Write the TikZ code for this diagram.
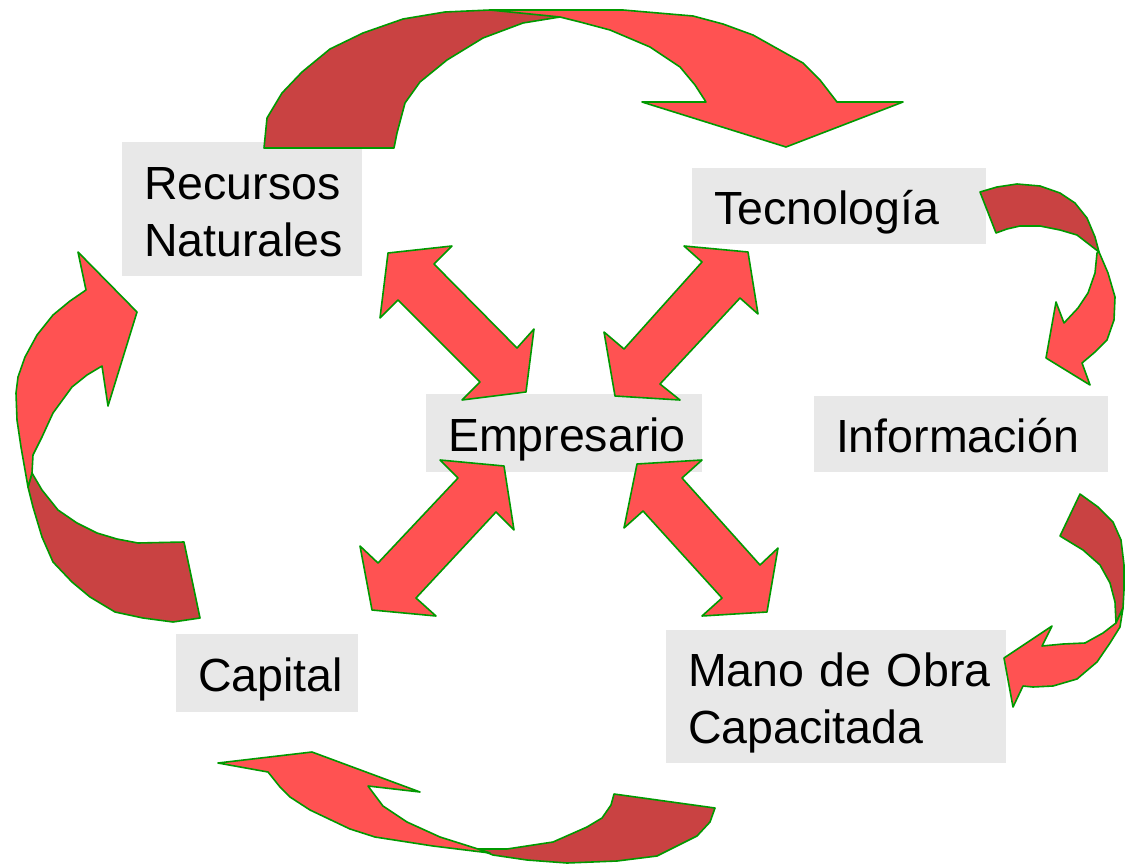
\documentclass[tikz,border=0pt]{standalone}
\usepackage{fontspec}
\setmainfont{Liberation Sans}
\usepackage{tikz}
\usetikzlibrary{positioning}

\definecolor{boxgray}{HTML}{E8E8E8}
\definecolor{ribbonred}{HTML}{FF5252}
\definecolor{ribbondark}{HTML}{C94242}
\definecolor{rimgreen}{HTML}{009900}

\begin{document}
\begin{tikzpicture}[
  x=1pt, y=-1pt,
  box/.style={fill=boxgray, inner xsep=22pt, inner ysep=0pt, align=left,
    text height=37pt, text depth=0pt, font=\fontsize{46.5}{57}\selectfont},
  ribbon/.style={fill=ribbonred, draw=rimgreen, line width=1.6pt, line join=round},
  ribbonback/.style={fill=ribbondark, draw=rimgreen, line width=1.6pt, line join=round}
]
  \useasboundingbox (0,0) rectangle (1126,864);

  % Nodes
  \node[box, minimum width=240, minimum height=134, text width=196, text depth=57pt] (recursos) at (242,209) {Recursos\\Naturales};
  \node[box, minimum width=294, minimum height=76, text width=250] (tecno) at (839,206) {Tecnología};
  \node[box, minimum width=276, minimum height=78, text width=232] (empresario) at (564,433) {Empresario};
  \node[box, minimum width=294, minimum height=76, text width=250] (info) at (961,434) {Información};
  \node[box, minimum width=182, minimum height=78, text width=138] (capital) at (267,673) {Capital};
  \node[box, minimum width=340, minimum height=133, text width=296, text depth=58pt] (mano) at (836,696.5) {\mbox{Mano de Obra}\\Capacitada};

  % Curved arrows round the cycle
  \draw[ribbonback] (264,148) -- (267,118) -- (282,93) -- (302,72) -- (330,49) -- (363,33) -- (403,19) -- (445,12) -- (490,10) -- (545,10) -- (560,17) -- (523,23) -- (483,38) -- (447,60) -- (420,82) -- (405,103) -- (397,133) -- (394,148) -- cycle;
  \draw[ribbon] (490,10) -- (623,10) -- (693,16) -- (723,24) -- (753,35) -- (803,63) -- (820,80) -- (837,102) -- (903,102) -- (786,147) -- (642,102) -- (706,102) -- (695,85) -- (680,67) -- (650,47) -- (610,30) -- (580,22) -- (560,17) -- cycle;

  \draw[ribbonback] (980,192) -- (997,187) -- (1017,184) -- (1040,186) -- (1060,193) -- (1075,203) -- (1087,218) -- (1095,237) -- (1099,252) -- (1077,235) -- (1060,230) -- (1040,226) -- (1020,226) -- (1007,229) -- (996,233) -- cycle;
  \draw[ribbon] (1099,252) -- (1108,273) -- (1115,297) -- (1114,320) -- (1107,340) -- (1095,352) -- (1082,363) -- (1090,385) -- (1046,358) -- (1056,302) -- (1064,323) -- (1078,308) -- (1088,293) -- (1095,273) -- (1097,253) -- cycle;

  \draw[ribbonback] (1080,494) -- (1098,507) -- (1113,522) -- (1121,540) -- (1124,565) -- (1124,590) -- (1123,608) -- (1116,623) -- (1115,602) -- (1110,583) -- (1100,565) -- (1083,550) -- (1060,536) -- cycle;
  \draw[ribbon] (1123,608) -- (1120,627) -- (1110,643) -- (1097,662) -- (1077,679) -- (1053,686) -- (1033,687) -- (1023,686) -- (1013,707) -- (1004,658) -- (1052,626) -- (1042,646) -- (1063,644) -- (1085,643) -- (1103,633) -- (1116,623) -- cycle;

  \draw[ribbonback] (614,794) -- (715,808) -- (710,822) -- (697,836) -- (657,856) -- (617,861) -- (567,863) -- (527,860) -- (493,855) -- (478,849) -- (507,849) -- (553,842) -- (587,827) -- (602,818) -- (611,805) -- cycle;
  \draw[ribbon] (490,853) -- (433,846) -- (375,837) -- (350,829) -- (310,810) -- (290,797) -- (280,787) -- (268,772) -- (218,763) -- (312,752) -- (420,792) -- (368,786) -- (383,806) -- (407,822) -- (440,837) -- (478,849) -- cycle;

  \draw[ribbonback] (200,618) -- (173,622) -- (143,618) -- (115,612) -- (90,597) -- (72,582) -- (53,562) -- (42,537) -- (33,507) -- (28,487) -- (32,473) -- (42,490) -- (58,510) -- (77,523) -- (97,533) -- (117,539) -- (138,543) -- (184,542) -- cycle;
  \draw[ribbon] (86,290) -- (78,252) -- (137,312) -- (108,406) -- (102,366) -- (87,375) -- (72,387) -- (53,413) -- (42,437) -- (33,455) -- (32,473) -- (28,487) -- (21,447) -- (17,420) -- (16,393) -- (18,377) -- (25,357) -- (37,335) -- (53,315) -- (70,301) -- cycle;

  % Double arrows round Empresario
  \draw[ribbon] (388,253) -- (452,246) -- (434,264) -- (517,348) -- (534,329) -- (526,392) -- (462,400) -- (480,382) -- (398,300) -- (380,318) -- cycle;
  \draw[ribbon] (748,252) -- (758,314) -- (740,298) -- (660,384) -- (680,400) -- (615,396) -- (604,332) -- (624,349) -- (702,262) -- (684,246) -- cycle;
  \draw[ribbon] (504,466) -- (514,530) -- (496,512) -- (416,598) -- (436,616) -- (372,610) -- (360,546) -- (378,563) -- (458,478) -- (440,460) -- cycle;
  \draw[ribbon] (637,464) -- (702,460) -- (682,478) -- (760,565) -- (778,548) -- (767,612) -- (702,616) -- (722,598) -- (643,511) -- (624,528) -- cycle;
\end{tikzpicture}
\end{document}
